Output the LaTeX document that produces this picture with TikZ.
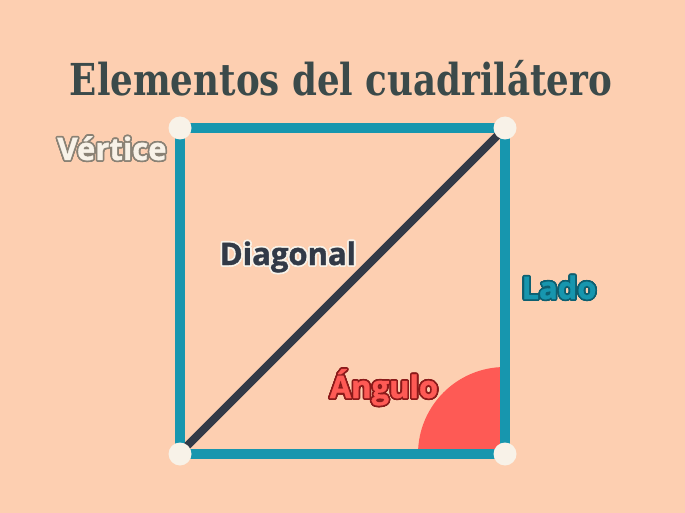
\documentclass[tikz,border=0pt]{standalone}
\usepackage{fontspec}
\newfontfamily\labfont{Open Sans}[BoldFeatures={FakeBold=1.2}]
\newfontfamily\titlefont{DejaVu Serif}
\definecolor{bg}{HTML}{FDCFB1}
\definecolor{teal}{HTML}{1796AE}
\definecolor{darkline}{HTML}{323A47}
\definecolor{angred}{HTML}{FE5A55}
\definecolor{cream}{HTML}{F8F2E8}
\definecolor{titlecol}{HTML}{3B4A4A}
\definecolor{vertout}{HTML}{8A8275}
\definecolor{ladoout}{HTML}{0E5F70}
\definecolor{angout}{HTML}{8B1A1A}
\newcommand\outl[4]{%
 \setbox0=\hbox{#4}%
 \hbox to \wd0{%
 \foreach \a in {0,22.5,...,337.5}{%
   \pgfmathsetlengthmacro\dx{#3*cos(\a)}%
   \pgfmathsetlengthmacro\dy{#3*sin(\a)}%
   \rlap{\kern\dx\raise\dy\hbox{\color{#1}#4}}}%
 \rlap{\color{#2}#4}\hfil}}
\tikzset{
  side/.style={draw=teal, line width=9.5pt},
  vtx/.style={circle, fill=cream, minimum size=23pt, inner sep=0pt},
  lab/.style={inner sep=0pt, anchor=base, font=\labfont\bfseries\fontsize{31}{36}\selectfont},
}
\begin{document}
\begin{tikzpicture}[x=1pt,y=-1pt]
\fill[bg] (0,0) rectangle (685,513);
\useasboundingbox (0,0) rectangle (685,513);
\node[inner sep=0pt, anchor=base, text=titlecol, font=\titlefont\bfseries\fontsize{44}{50}\selectfont] (title) at (341,96) {\scalebox{0.81}[1]{Elementos del cuadrilátero}};
\coordinate (A) at (180,454);
\coordinate (B) at (505,454);
\coordinate (C) at (505,128);
\coordinate (D) at (180,128);
\fill[angred] (B) -- ++(-87,0) arc[start angle=180, end angle=270, radius=87] -- cycle;
\draw[side] (A) -- (B) -- (C) -- (D) -- cycle;
\coordinate (diagstart) at (172.5,460.5);
\draw[darkline, line width=8pt] (diagstart) -- (C);
\node[vtx] (vA) at (A) {};
\node[vtx] (vB) at (B) {};
\node[vtx] (vC) at (C) {};
\node[vtx] (vD) at (D) {};
\node[lab] (vert) at (112,160) {\outl{vertout}{cream}{1.7pt}{Vértice}};
\node[lab] (diag) at (288,265) {\outl{cream}{darkline}{1.7pt}{Diagonal}};
\node[lab] (lado) at (559,299) {\outl{ladoout}{teal}{1.7pt}{Lado}};
\node[lab] (ang) at (384,398) {\outl{angout}{angred}{1.7pt}{Ángulo}};
\end{tikzpicture}
\end{document}
